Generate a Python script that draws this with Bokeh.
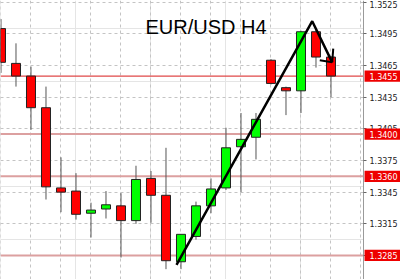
from bokeh.plotting import figure
from bokeh.models import (Range1d, LinearAxis, FixedTicker, PrintfTickFormatter,
                          Grid, Span, Label, BoxAnnotation, ColumnDataSource)
from bokeh.embed import file_html
from bokeh.resources import INLINE

# ---- data (EUR/USD H4 candles) ----
idx = list(range(23))
opens  = [1.3500, 1.3467, 1.3455, 1.3425, 1.3349, 1.3346, 1.3325, 1.3329, 1.3332, 1.3318,
          1.3358, 1.3342, 1.3279, 1.3303, 1.3332, 1.3349, 1.3388, 1.3397, 1.3470, 1.3444,
          1.3441, 1.3497, 1.3473]
highs  = [1.3509, 1.3486, 1.3464, 1.3445, 1.3378, 1.3363, 1.3335, 1.3346, 1.3344, 1.3370,
          1.3365, 1.3387, 1.3305, 1.3336, 1.3358, 1.3406, 1.3420, 1.3420, 1.3471, 1.3445,
          1.3498, 1.3499, 1.3474]
lows   = [1.3458, 1.3445, 1.3404, 1.3338, 1.3326, 1.3319, 1.3302, 1.3320, 1.3283, 1.3315,
          1.3316, 1.3272, 1.3272, 1.3300, 1.3325, 1.3347, 1.3345, 1.3376, 1.3447, 1.3418,
          1.3420, 1.3463, 1.3435]
closes = [1.3468, 1.3455, 1.3425, 1.3350, 1.3345, 1.3324, 1.3328, 1.3333, 1.3318, 1.3357,
          1.3342, 1.3280, 1.3305, 1.3332, 1.3348, 1.3387, 1.3395, 1.3414, 1.3448, 1.3441,
          1.3497, 1.3473, 1.3455]

axis_ticks = [1.3525, 1.3495, 1.3465, 1.3435, 1.3405, 1.3375, 1.3345, 1.3315, 1.3285]
levels = [1.3455, 1.3400, 1.3360, 1.3285]
title_text = "EUR/USD H4"

# hand-drawn trend line and arrow (candle index, price)
trend_x = [11.7, 20.75, 22.08]
trend_y = [1.3276, 1.3507, 1.3468]
arrow_xs = [[21.25, 22.08], [22.15, 22.08]]
arrow_ys = [[1.3470, 1.3468], [1.3481, 1.3468]]

# ---- layout constants ----
X0 = -0.033
AXIS_X = 24.167          # price-scale edge (candle index units)
X1 = X0 + 400 / 15.0
TAG_HALF = 0.00053       # half height of the price tags (price units)

bull = [c >= o for o, c in zip(opens, closes)]
src = ColumnDataSource(dict(
    x=idx,
    high=highs, low=lows,
    top=[max(o, c) for o, c in zip(opens, closes)],
    bottom=[min(o, c) for o, c in zip(opens, closes)],
    color=["#00ff00" if b else "#ff0000" for b in bull],
))

p = figure(width=400, height=279,
           x_range=Range1d(X0, X1), y_range=Range1d(1.32622, 1.35266),
           x_axis_location=None, y_axis_location=None,
           toolbar_location=None, output_backend="svg",
           min_border=0)
p.outline_line_color = None
p.background_fill_color = "white"
p.border_fill_color = "white"

p.add_layout(Grid(dimension=1, ticker=FixedTicker(ticks=axis_ticks),
                  grid_line_color="#c4c4c4", grid_line_dash="3 3"))
p.add_layout(Grid(dimension=0, ticker=FixedTicker(ticks=list(range(0, 26, 2))),
                  grid_line_color="#c4c4c4", grid_line_dash="3 3"))

for i, lv in enumerate(levels):
    if i == 0:
        p.add_layout(Span(location=lv, dimension="width", line_color="#e04848",
                          line_width=1.3, level="underlay"))
    else:
        p.add_layout(Span(location=lv, dimension="width", line_color="#dca0a0",
                          line_width=2, level="underlay"))

# blank price-scale strip right of the axis
p.add_layout(BoxAnnotation(left=AXIS_X, right=X1 + 1, fill_color="white", fill_alpha=1,
                           line_color=None, level="underlay"))

yaxis = LinearAxis(ticker=FixedTicker(ticks=axis_ticks),
                   formatter=PrintfTickFormatter(format="%.4f"),
                   fixed_location=AXIS_X,
                   major_tick_out=3, major_tick_in=0,
                   minor_tick_out=0, minor_tick_in=0,
                   major_label_standoff=3,
                   axis_line_color="#9a9a9a", major_tick_line_color="#666666",
                   major_label_text_font="DejaVu Sans",
                   major_label_text_font_size="8px",
                   major_label_text_color="#222222")
p.add_layout(yaxis, "right")

p.add_layout(Label(x=145, y=253, x_units="screen", y_units="screen",
                   text=title_text, text_font="Liberation Sans",
                   text_font_size="20px", text_color="black",
                   text_baseline="alphabetic"))

p.segment(x0="x", y0="high", x1="x", y1="low", source=src,
          line_color="#555555", line_width=1)
p.vbar(x="x", top="top", bottom="bottom", width=0.6, source=src,
       fill_color="color", line_color="#222222", line_width=1)

p.line(trend_x, trend_y, line_color="black", line_width=2.5)
p.multi_line(arrow_xs, arrow_ys, line_color="black", line_width=2)

for lv in levels:
    p.add_layout(BoxAnnotation(left=AXIS_X + 0.07, right=X1 + 1,
                               bottom=lv - TAG_HALF, top=lv + TAG_HALF,
                               fill_color="#ee0000", fill_alpha=1.0,
                               line_color=None, level="annotation"))
    p.add_layout(Label(x=AXIS_X, y=lv, x_offset=6, text="%.4f" % lv,
                       text_color="white", text_font="DejaVu Sans",
                       text_font_size="8px", text_baseline="middle"))

open("out.html", "w").write(file_html(p, INLINE))
